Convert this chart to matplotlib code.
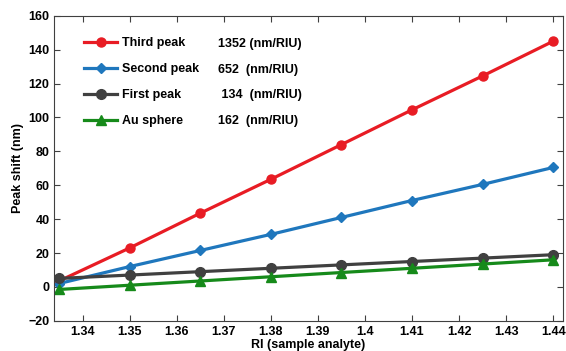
import numpy as np
import matplotlib
matplotlib.use('Agg')
import matplotlib.pyplot as plt

# data
ri = [1.335, 1.35, 1.365, 1.38, 1.395, 1.41, 1.425, 1.44]
third_peak = [3.5, 23, 43.5, 63.5, 84, 104.5, 124.5, 145]
second_peak = [2, 12, 21.5, 31, 41, 51, 60.5, 70.5]
first_peak = [5, 7, 9, 11, 13, 15, 17, 19]
au_sphere = [-1.5, 1, 3.5, 6, 8.5, 11, 13.5, 16]

names = ['Third peak', 'Second peak', 'First peak', 'Au sphere']
sensitivity = ['1352 (nm/RIU)', '652  (nm/RIU)', ' 134  (nm/RIU)', '162  (nm/RIU)']
xticks = [1.34, 1.35, 1.36, 1.37, 1.38, 1.39, 1.4, 1.41, 1.42, 1.43, 1.44]
xtick_labels = ['1.34', '1.35', '1.36', '1.37', '1.38', '1.39', '1.4', '1.41', '1.42', '1.43', '1.44']
yticks = [-20, 0, 20, 40, 60, 80, 100, 120, 140, 160]

plt.rcParams['font.family'] = ['Liberation Sans', 'DejaVu Sans']
plt.rcParams['font.weight'] = 'bold'

fig = plt.figure(figsize=(5.66, 3.51), dpi=100)
ax = fig.add_axes([0.096, 0.086, 0.898, 0.869])

series = [third_peak, second_peak, first_peak, au_sphere]
colors = ['#e81c24', '#1f77bd', '#404040', '#168a1a']
markers = ['o', 'D', 'o', '^']
msizes = [6.5, 5.5, 7, 6.5]
for ys, c, m, ms, nm in zip(series, colors, markers, msizes, names):
    ax.plot(ri, ys, color=c, lw=2.3, marker=m, ms=ms, label=nm)

ax.set_xlim(1.334, 1.442)
ax.set_ylim(-20, 160)
ax.set_xticks(xticks)
ax.set_xticklabels(xtick_labels)
ax.set_yticks(yticks)
ax.tick_params(direction='in', top=True, right=True, labelsize=9, length=4, width=0.8,
               colors='#404040', labelcolor='black')
for lab in ax.get_xticklabels() + ax.get_yticklabels():
    lab.set_fontweight('bold')
for s in ax.spines.values():
    s.set_color('#404040')
    s.set_linewidth(0.8)

ax.set_xlabel('RI (sample analyte)', fontsize=9, fontweight='bold', labelpad=1)
ax.set_ylabel('Peak shift (nm)', fontsize=9, fontweight='bold', labelpad=3)

leg = ax.legend(loc='upper left', bbox_to_anchor=(0.037, 0.966), frameon=False,
                handlelength=2.6, handletextpad=0.4, labelspacing=1.12,
                prop={'size': 9, 'weight': 'bold'})

row_y = [0.908, 0.823, 0.741, 0.655]
for txt, yy in zip(sensitivity, row_y):
    ax.text(0.322, yy, txt, transform=ax.transAxes, fontsize=9, fontweight='bold',
            va='center', ha='left')

fig.savefig('out.png', dpi=100)
